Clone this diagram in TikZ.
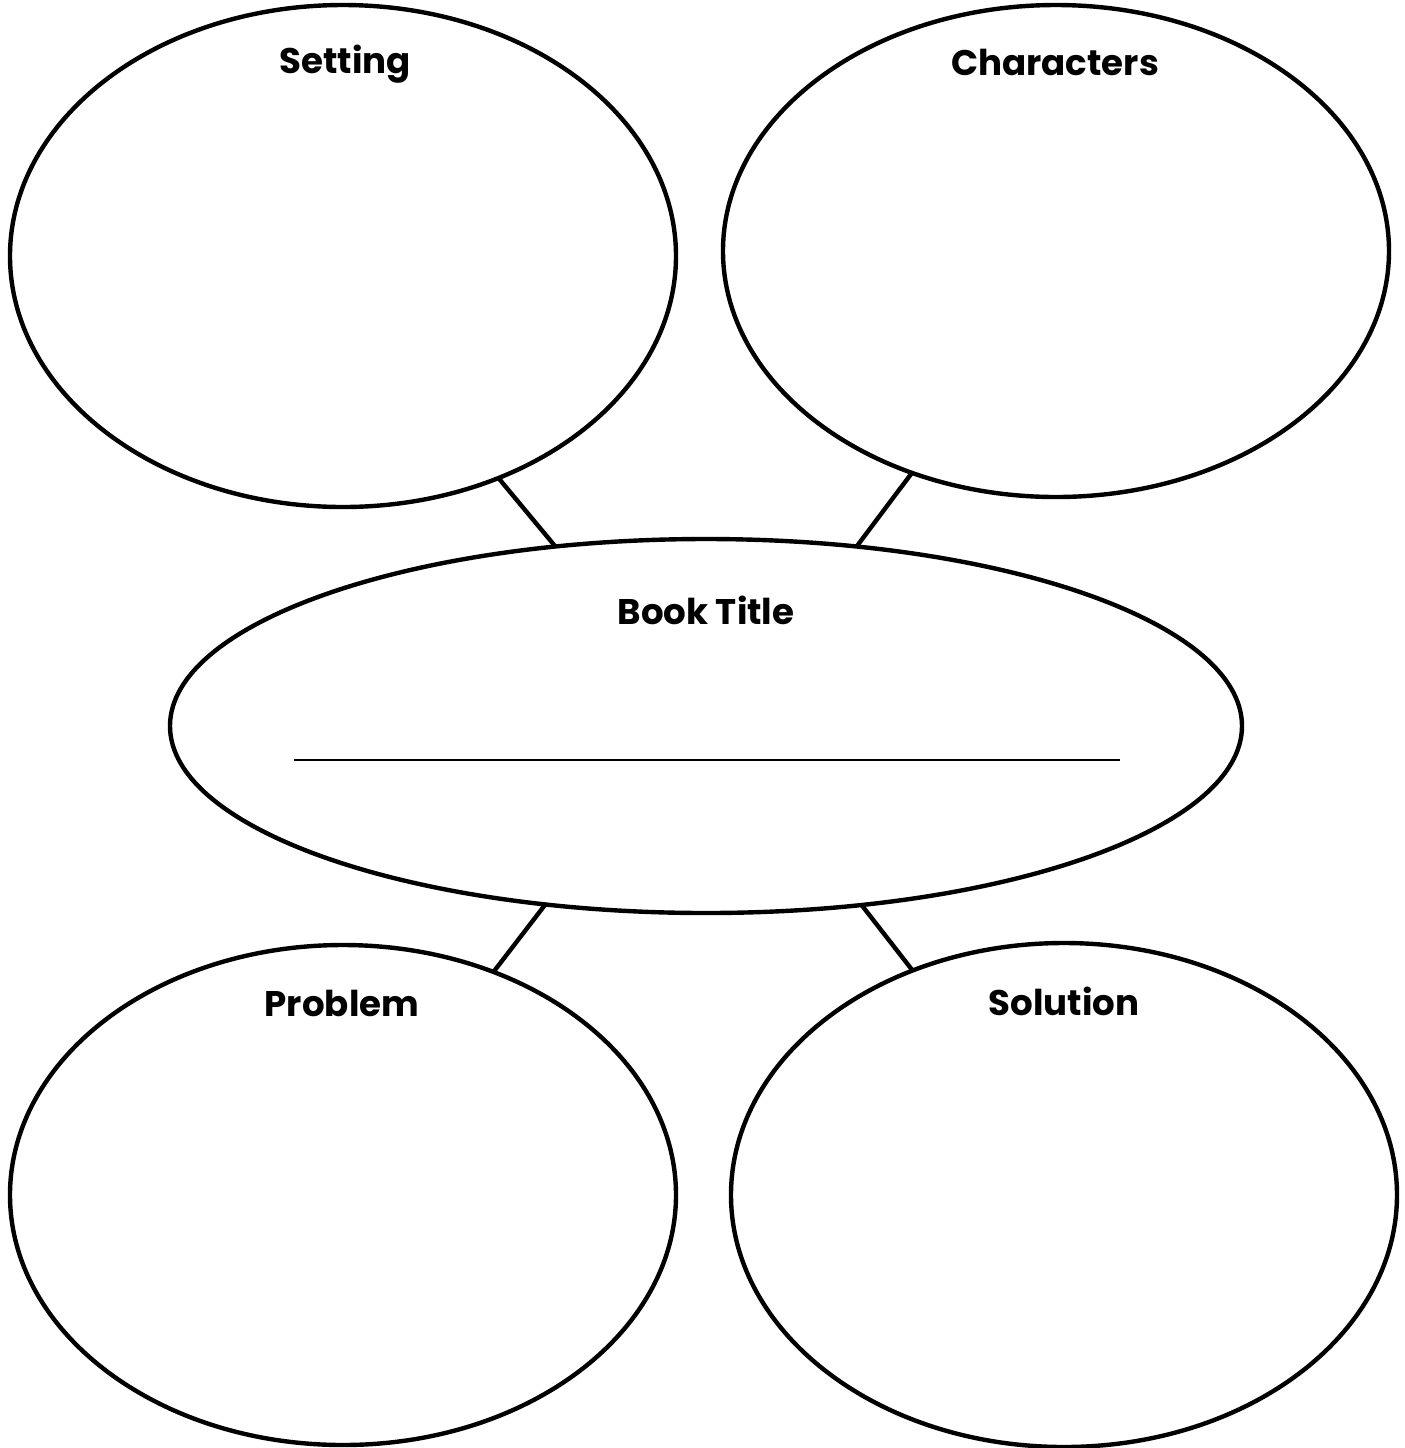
\documentclass[tikz,border=0pt]{standalone}
\usepackage{fontspec}
\setmainfont{Poppins}
\usetikzlibrary{shapes.geometric}
\begin{document}
\begin{tikzpicture}[x=0.5pt,y=-0.5pt,
  oval/.style={draw=black,ellipse,line width=2.2pt,inner sep=0pt,outer sep=0pt},
  link/.style={draw=black,line width=2.2pt},
  lbl/.style={font=\fontsize{17.8}{21}\selectfont\bfseries,inner sep=0pt,anchor=center}]
\useasboundingbox (0,0) rectangle (1405,1448);
\fill[white] (0,0) rectangle (1405,1448);
\node[oval,minimum width=333pt,minimum height=251pt] (set) at (343,256) {};
\node[oval,minimum width=333pt,minimum height=246pt] (cha) at (1056,251) {};
\node[oval,minimum width=536pt,minimum height=187pt] (book) at (706,726) {};
\node[oval,minimum width=333pt,minimum height=250pt] (prob) at (343,1195) {};
\node[oval,minimum width=333pt,minimum height=252pt] (sol) at (1064,1195) {};
\draw[link] (set.-55.7) -- (book.130.9);
\draw[link] (cha.-123.7) -- (book.50.4);
\draw[link] (prob.56.5) -- (book.-132);
\draw[link] (sol.124) -- (book.-49.5);
\node[lbl] (tset) at (345,64) {Setting};
\node[lbl] (tcha) at (1055,62) {Characters};
\node[lbl] (tbook) at (706,610) {Book Title};
\node[lbl] (tprob) at (342,1003) {Problem};
\node[lbl] (tsol) at (1064,1001) {Solution};
\coordinate (la) at (294,760);
\coordinate (lb) at (1120,760);
\draw[line width=1pt] (la) -- (lb);
\end{tikzpicture}
\end{document}
